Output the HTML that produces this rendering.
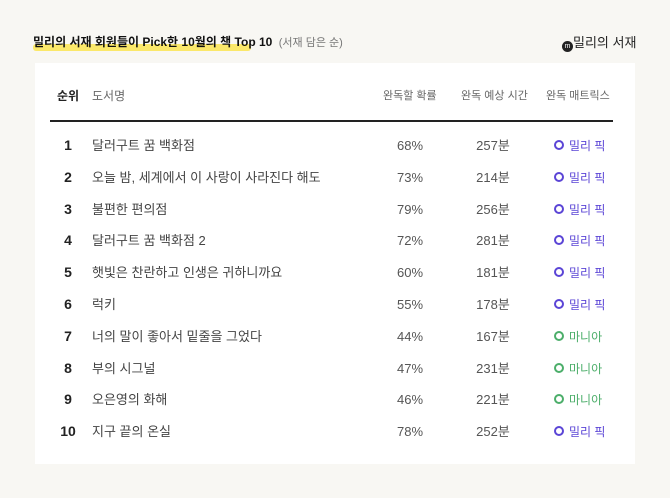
<!DOCTYPE html>
<html><head><meta charset="utf-8"><style>
body{margin:0;width:670px;height:498px;background:#f8f7f3;font-family:"Liberation Sans","Noto Sans CJK KR",sans-serif;position:relative;overflow:hidden}
.abs{position:absolute;white-space:nowrap;line-height:18px;height:18px}
#card{position:absolute;left:35px;top:63px;width:600px;height:401px;background:#fff}
.hl{position:absolute;left:33px;top:44px;width:218px;height:7px;background:#fbe86a;border-radius:3px}
.row{position:absolute;left:0;width:600px;height:20px;display:flex;align-items:baseline;line-height:20px;white-space:nowrap}
.row>span{display:inline-block}
</style></head><body>
<div class="hl"></div>
<div class="abs" style="left:33px;top:33px;font-size:12px;font-weight:bold;color:#111">밀리의 서재 회원들이 Pick한 10월의 책 Top 10 <span style="font-weight:normal;color:#777;font-size:11px">&nbsp;(서재 담은 순)</span></div>
<div class="abs" style="left:562px;top:34px;font-size:13px;color:#222"><span style="display:inline-block;width:11px;height:11px;border-radius:50%;background:#222;color:#fff;font-size:7px;text-align:center;line-height:11px;vertical-align:-1px">m</span>밀리의 서재</div>
<div id="card"></div>
<script>
const ranks=[1,2,3,4,5,6,7,8,9,10];
const titles=["달러구트 꿈 백화점","오늘 밤, 세계에서 이 사랑이 사라진다 해도","불편한 편의점","달러구트 꿈 백화점 2","햇빛은 찬란하고 인생은 귀하니까요","럭키","너의 말이 좋아서 밑줄을 그었다","부의 시그널","오은영의 화해","지구 끝의 온실"];
const probs=[68,73,79,72,60,55,44,47,46,78];
const times=[257,214,256,281,181,178,167,231,221,252];
const matrix=["밀리 픽","밀리 픽","밀리 픽","밀리 픽","밀리 픽","밀리 픽","마니아","마니아","마니아","밀리 픽"];
const card=document.getElementById('card');
function add(html,x,y,style,name){const d=document.createElement('div');d.className='abs';d.innerHTML=html;d.style.cssText+=`left:${x-35}px;top:${y-63}px;`+style;


card.appendChild(d);return d;}
add('순위',57,87,'font-size:12px;font-weight:bold;color:#222','header-rank');
add('도서명',92,87,'font-size:12px;color:#666','header-title');
add('완독할 확률',383,87,'font-size:11px;color:#666','header-prob');
add('완독 예상 시간',461,87,'font-size:11px;color:#666','header-time');
add('완독 매트릭스',546,87,'font-size:11px;color:#666','header-matrix');
add('',50,120,'width:563px;height:2px;background:#222','header-rule');
const y0=145,step=31.8;
ranks.forEach((r,i)=>{
const row=document.createElement('div');row.className='row';
row.style.top=(Math.round(y0+i*step)-10-63)+'px';


const c=matrix[i]==='마니아'?'#4cae6a':'#5b45d6';
row.innerHTML=`<span style="width:23px"></span>`+
`<span style="width:20px;text-align:center;font-size:14px;font-weight:bold;color:#222">${r}</span>`+
`<span style="width:14px"></span>`+
`<span style="width:293px;font-size:13px;color:#444">${titles[i]}</span>`+
`<span style="width:50px;text-align:center;font-size:13px;color:#555">${probs[i]}%</span>`+
`<span style="width:33px"></span>`+
`<span style="width:50px;text-align:center;font-size:13px;color:#555">${times[i]}분</span>`+
`<span style="width:36px"></span>`+
`<span style="font-size:12px"><span style="display:inline-block;width:6px;height:6px;border:2px solid ${c};border-radius:50%;vertical-align:0px;margin-right:5px"></span><span style="color:${c}">${matrix[i]}</span></span>`;
card.appendChild(row);
});
</script>
</body></html>
